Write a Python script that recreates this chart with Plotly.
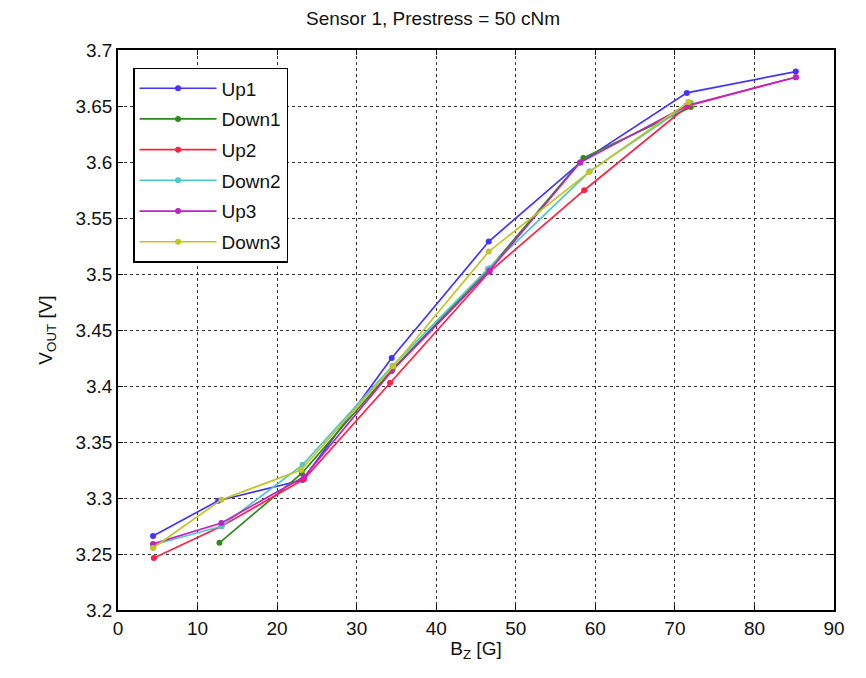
import plotly.graph_objects as go

# ---- data ----
up1_x = [4.4, 12.6, 23.2, 34.4, 46.6, 58.1, 71.5, 85.2]
up1_y = [3.266, 3.2976, 3.316, 3.425, 3.529, 3.5995, 3.6617, 3.6807]

down1_x = [72.0, 58.5, 46.7, 34.5, 23.1, 12.75]
down1_y = [3.649, 3.6036, 3.505, 3.415, 3.322, 3.260]

up2_x = [4.5, 13.0, 23.4, 34.2, 46.7, 58.6, 71.6, 85.2]
up2_y = [3.2465, 3.2747, 3.317, 3.4028, 3.502, 3.5748, 3.650, 3.6757]

down2_x = [72.0, 59.3, 46.5, 34.5, 23.2, 13.0, 4.4]
down2_y = [3.6528, 3.5917, 3.5045, 3.418, 3.3296, 3.2748, 3.258]

up3_x = [4.4, 13.0, 23.4, 34.4, 46.7, 58.1, 71.5, 85.2]
up3_y = [3.259, 3.2777, 3.319, 3.4133, 3.503, 3.5995, 3.6505, 3.6757]

down3_x = [71.7, 59.2, 46.6, 34.6, 23.0, 13.0, 4.4]
down3_y = [3.6535, 3.591, 3.520, 3.4177, 3.325, 3.2985, 3.2554]

series_names = ["Up1", "Down1", "Up2", "Down2", "Up3", "Down3"]
series_x = [up1_x, down1_x, up2_x, down2_x, up3_x, down3_x]
series_y = [up1_y, down1_y, up2_y, down2_y, up3_y, down3_y]
series_colors = ["#4433ff", "#2f8a1e", "#ff2244", "#55c6c6", "#bf22c6", "#c2c622"]

x_ticks = [0, 10, 20, 30, 40, 50, 60, 70, 80, 90]
y_ticks = [3.2, 3.25, 3.3, 3.35, 3.4, 3.45, 3.5, 3.55, 3.6, 3.65, 3.7]
y_tick_labels = ["3.2", "3.25", "3.3", "3.35", "3.4", "3.45", "3.5", "3.55", "3.6", "3.65", "3.7"]

FONT = "Liberation Sans, Arial, sans-serif"
TXT = "#111111"

fig = go.Figure()
for name, xs, ys, c in zip(series_names, series_x, series_y, series_colors):
    fig.add_trace(go.Scatter(
        x=xs, y=ys, name=name, mode="lines+markers", legendgroup=name,
        line=dict(color=c, width=1.7),
        marker=dict(color=c, size=6),
    ))

axis_common = dict(
    showline=True, linecolor="black", linewidth=1.5, mirror="ticks",
    ticks="inside", ticklen=5, tickcolor="black",
    showgrid=True, gridcolor="#333333", griddash="dot", gridwidth=1,
    zeroline=False, tickfont=dict(size=19, color=TXT, family=FONT),
)

fig.update_xaxes(range=[0, 90], tickvals=x_ticks,
                 title=dict(text="B<sub>Z</sub> [G]", font=dict(size=19, family=FONT, color=TXT), standoff=4),
                 **axis_common)
fig.update_yaxes(range=[3.2, 3.7], tickvals=y_ticks, ticktext=y_tick_labels,
                 title=dict(text="V<sub>OUT</sub> [V]", font=dict(size=19, family=FONT, color=TXT), standoff=18),
                 **axis_common)

fig.update_layout(
    width=850, height=660,
    margin=dict(l=110, r=24, t=42, b=55),
    paper_bgcolor="white", plot_bgcolor="white",
    title=dict(text="Sensor 1, Prestress = 50 cNm", x=0.5, xanchor="center",
               y=1 - 10 / 660, yanchor="middle",
               font=dict(size=19, family=FONT, color=TXT)),
    showlegend=True,
    legend=dict(x=0.021, y=0.968, xanchor="left", yanchor="top",
                bgcolor="white", bordercolor="black", borderwidth=1.5,
                font=dict(size=19, family=FONT, color=TXT),
                tracegroupgap=3, itemwidth=77, entrywidth=183),
    font=dict(family=FONT),
)

fig.write_html("out.html")
